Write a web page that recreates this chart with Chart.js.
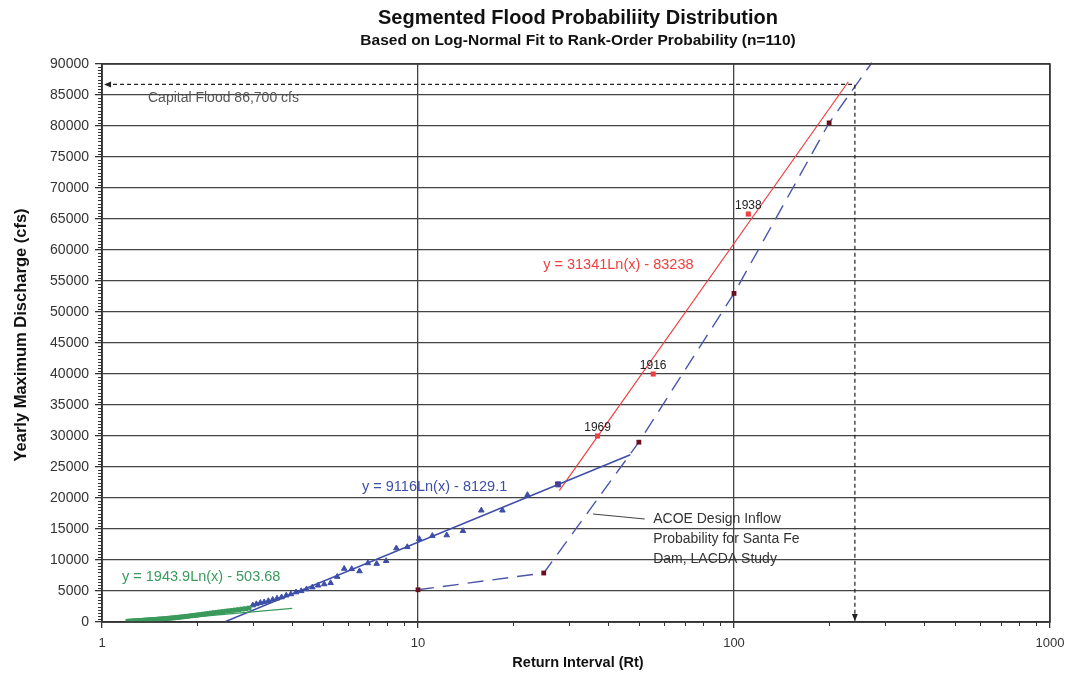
<!DOCTYPE html>
<html><head><meta charset="utf-8">
<script src="https://cdn.jsdelivr.net/npm/chart.js@4.4.1/dist/chart.umd.min.js"></script>
<style>html,body{margin:0;padding:0;background:#fff;}canvas{display:block;}</style>
</head><body>
<canvas id="c" width="1080" height="677"></canvas>
<script>
// ---------- data ----------
const xTicks = [1, 10, 100, 1000];
const xTickLabels = ['1', '10', '100', '1000'];
const yTicks = [0,5000,10000,15000,20000,25000,30000,35000,40000,45000,50000,55000,60000,65000,70000,75000,80000,85000,90000];
const yTickLabels = ['0','5000','10000','15000','20000','25000','30000','35000','40000','45000','50000','55000','60000','65000','70000','75000','80000','85000','90000'];

const greenRt = [2.921,2.846,2.775,2.707,2.643,2.581,2.523,2.467,2.413,2.362,2.313,2.265,2.220,2.176,2.135,2.094,2.056,2.018,1.982,1.947,1.914,1.881,1.850,1.820,1.790,1.762,1.734,1.708,1.682,1.657,1.632,1.609,1.586,1.563,1.542,1.521,1.500,1.480,1.461,1.442,1.423,1.405,1.388,1.370,1.354,1.337,1.321,1.306,1.291,1.276,1.261,1.247,1.233,1.220,1.207];
const greenQ = [2250,2150,2080,2000,1930,1860,1800,1740,1680,1620,1560,1500,1440,1380,1320,1260,1200,1150,1100,1050,1000,950,900,860,820,780,740,700,670,640,610,580,550,520,490,470,450,420,400,380,360,340,320,300,280,260,240,220,200,185,170,155,140,125,110];

const blueRt = [22.2,18.5,15.86,13.875,12.33,11.1,10.09,9.25,8.54,7.93,7.4,6.94,6.53,6.17,5.84,5.55,5.29,5.05,4.83,4.63,4.44,4.27,4.11,3.96,3.83,3.70,3.58,3.47,3.36,3.26,3.17,3.08,3.00];
const blueQ = [20500,18000,18000,14700,14000,13900,13400,12100,11900,9850,9400,9500,8200,8550,8600,7300,6300,6100,5900,5600,5300,5000,4800,4500,4300,4000,3800,3600,3400,3200,3100,2900,2700];

const redRt = [37, 55.5, 111];
const redQ = [30000, 40000, 65800];
const redYears = ['1969', '1916', '1938'];

const purpleRt = [27.75];
const purpleQ = [22200];

const acoeRt = [10, 25, 50, 100, 200, 273];
const acoeQ = [5200, 7900, 29000, 53000, 80500, 90200];

const greenFitRt = [1.3, 4.0];
const greenFitQ = [6, 2191];
const blueFitRt = [2.44, 47];
const blueFitQ = [0, 26970];
const redFitRt = [28, 230];
const redFitQ = [21200, 87140];

const capitalRt = [1.03, 241.3, 241.3];
const capitalQ = [86700, 86700, 0];

const leaderRt = [35.8, 52.2];
const leaderQ = [17420, 16610];

const eqTexts = ['y = 31341Ln(x) - 83238', 'y = 9116Ln(x) - 8129.1', 'y = 1943.9Ln(x) - 503.68'];
const acoeText = ['ACOE Design Inflow', 'Probability for Santa Fe', 'Dam, LACDA Study'];
const capitalText = 'Capital Flood 86,700 cfs';
const titleText = 'Segmented Flood Probabiliity Distribution';
const subtitleText = 'Based on Log-Normal Fit to Rank-Order Probability (n=110)';
const xTitle = 'Return Interval (Rt)';
const yTitle = 'Yearly Maximum Discharge (cfs)';

// ---------- helpers ----------
const pts = (xs, ys) => xs.map((v, i) => ({x: v, y: ys[i]}));
const FONT = '"Liberation Sans", Arial, sans-serif';
const GREEN = '#3a9a5c', BLUE = '#3d4ea8', RED = '#ee4040', MAROON = '#6a1020';

const deco = {
  id: 'deco',
  beforeDatasetsDraw(chart) {
    const {ctx, scales: {x, y}, chartArea: a} = chart;
    ctx.save();
    ctx.strokeStyle = '#333';
    ctx.lineWidth = 1;
    for (const d of [1, 10, 100]) {
      for (let k = 2; k <= 9; k++) {
        const px = Math.round(x.getPixelForValue(d * k)) + 0.5;
        ctx.beginPath(); ctx.moveTo(px, a.bottom); ctx.lineTo(px, a.bottom + 4); ctx.stroke();
      }
    }
    for (let v = 500; v < 90000; v += 500) {
      if (v % 5000 === 0) continue;
      const py = Math.round(y.getPixelForValue(v)) + 0.5;
      ctx.beginPath(); ctx.moveTo(a.left - 4, py); ctx.lineTo(a.left, py); ctx.stroke();
    }
    ctx.fillStyle = '#333';
    ctx.font = '14px ' + FONT;
    ctx.textBaseline = 'middle';
    ctx.textAlign = 'left';
    const ax = x.getPixelForValue(55.5);
    acoeText.forEach((t, i) => ctx.fillText(t, ax, y.getPixelForValue(16600 - i * 3200)));
    ctx.restore();
  },
  afterDatasetsDraw(chart) {
    const {ctx, scales: {x, y}, chartArea: a} = chart;
    ctx.save();
    ctx.strokeStyle = '#333'; ctx.lineWidth = 1.5;
    ctx.strokeRect(a.left, a.top, a.right - a.left, a.bottom - a.top);
    ctx.fillStyle = '#222';
    const lx = x.getPixelForValue(capitalRt[0]), ly = y.getPixelForValue(capitalQ[0]);
    ctx.beginPath(); ctx.moveTo(lx - 2, ly); ctx.lineTo(lx + 5, ly - 3); ctx.lineTo(lx + 5, ly + 3); ctx.closePath(); ctx.fill();
    const dx = x.getPixelForValue(capitalRt[2]), dy = y.getPixelForValue(capitalQ[2]);
    ctx.beginPath(); ctx.moveTo(dx, dy - 1); ctx.lineTo(dx - 3, dy - 8); ctx.lineTo(dx + 3, dy - 8); ctx.closePath(); ctx.fill();
    ctx.fillStyle = '#555';
    ctx.font = '14px ' + FONT;
    ctx.textBaseline = 'middle'; ctx.textAlign = 'left';
    ctx.fillText(capitalText, x.getPixelForValue(1.398), y.getPixelForValue(84500));
    ctx.fillStyle = RED; ctx.font = '14.5px ' + FONT;
    ctx.fillText(eqTexts[0], x.getPixelForValue(24.9), y.getPixelForValue(57580));
    ctx.fillStyle = BLUE;
    ctx.fillText(eqTexts[1], x.getPixelForValue(6.65), y.getPixelForValue(21770));
    ctx.fillStyle = GREEN;
    ctx.fillText(eqTexts[2], x.getPixelForValue(1.157), y.getPixelForValue(7260));
    ctx.fillStyle = '#222'; ctx.font = '12px ' + FONT; ctx.textAlign = 'center'; ctx.textBaseline = 'bottom';
    redRt.forEach((v, i) => ctx.fillText(redYears[i], x.getPixelForValue(v), y.getPixelForValue(redQ[i]) - 2));
    ctx.fillStyle = '#111'; ctx.textBaseline = 'middle';
    const cx = (a.left + a.right) / 2 + 2;
    ctx.font = 'bold 20px ' + FONT; ctx.fillText(titleText, cx, 18);
    ctx.font = 'bold 15.5px ' + FONT; ctx.fillText(subtitleText, cx, 41);
    ctx.font = 'bold 14.5px ' + FONT; ctx.fillText(xTitle, cx, 663);
    ctx.translate(21, (a.top + a.bottom) / 2 - 8);
    ctx.rotate(-Math.PI / 2);
    ctx.font = 'bold 16.5px ' + FONT; ctx.fillText(yTitle, 0, 0);
    ctx.restore();
  }
};

const lineDs = (data, color, extra) => Object.assign({
  data, showLine: true, borderColor: color, backgroundColor: color,
  borderWidth: 1.3, pointRadius: 0, fill: false, tension: 0
}, extra || {});

new Chart(document.getElementById('c'), {
  type: 'scatter',
  data: {
    datasets: [
      lineDs(pts(capitalRt, capitalQ), '#222', {borderDash: [4, 3], borderWidth: 1.2, clip: false}),
      lineDs(pts(greenFitRt, greenFitQ), GREEN, {borderWidth: 1.2}),
      {data: pts(greenRt, greenQ), pointStyle: 'rect', pointRadius: 3.4, backgroundColor: GREEN, borderColor: GREEN, borderWidth: 0},
      lineDs(pts(blueFitRt, blueFitQ), BLUE, {borderWidth: 1.5}),
      {data: pts(blueRt, blueQ), pointStyle: 'triangle', pointRadius: 3.2, backgroundColor: BLUE, borderColor: BLUE, borderWidth: 1},
      lineDs(pts(acoeRt, acoeQ), '#4a55a8', {borderDash: [16, 9], borderWidth: 1.4, clip: false,
        pointRadius: [3.4, 3.4, 3.4, 3.4, 3.4, 0], pointStyle: 'rect', pointBackgroundColor: MAROON, pointBorderColor: MAROON, pointBorderWidth: 0}),
      lineDs(pts(redFitRt, redFitQ), RED, {borderWidth: 1.2}),
      {data: pts(redRt, redQ), pointStyle: 'rect', pointRadius: 3.6, backgroundColor: RED, borderColor: RED, borderWidth: 0},
      {data: pts(purpleRt, purpleQ), pointStyle: 'rect', pointRadius: 3.6, backgroundColor: '#5a2a80', borderColor: BLUE, borderWidth: 1},
      lineDs(pts(leaderRt, leaderQ), '#444', {borderWidth: 1.2})
    ]
  },
  options: {
    responsive: false, animation: false, devicePixelRatio: 1,
    layout: {padding: {left: 0, top: 64, right: 30, bottom: 0}},
    plugins: {legend: {display: false}, tooltip: {enabled: false}},
    scales: {
      x: {
        type: 'logarithmic', min: 1, max: 1000,
        afterBuildTicks: s => { s.ticks = xTicks.map(v => ({value: v})); },
        afterFit: s => { s.height = 55; },
        ticks: {callback: (v) => xTickLabels[xTicks.indexOf(v)], font: {size: 13, family: FONT}, color: '#333', padding: 8, maxRotation: 0, autoSkip: false},
        grid: {color: '#444', lineWidth: 1.3, tickLength: 6, tickColor: '#333'},
        border: {color: '#333', width: 1.5}
      },
      y: {
        type: 'linear', min: 0, max: 90000,
        afterBuildTicks: s => { s.ticks = yTicks.map(v => ({value: v})); },
        afterFit: s => { s.width = 102; },
        ticks: {callback: (v) => yTickLabels[yTicks.indexOf(v)], font: {size: 14, family: FONT}, color: '#333', padding: 6, autoSkip: false},
        grid: {color: '#444', lineWidth: 1.3, tickLength: 7, tickColor: '#333'},
        border: {color: '#333', width: 1.5}
      }
    }
  },
  plugins: [deco]
});
</script>
</body></html>
